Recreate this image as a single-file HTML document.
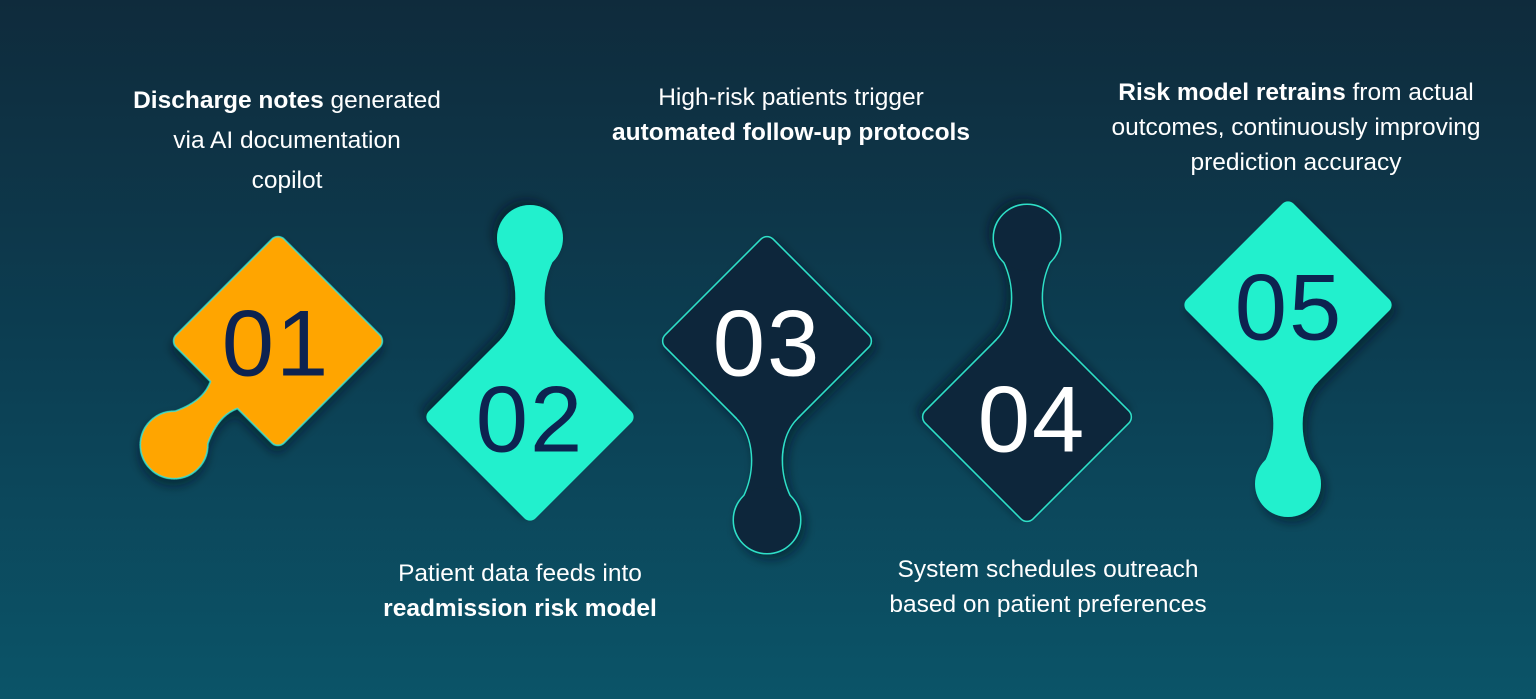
<!DOCTYPE html>
<html><head><meta charset="utf-8"><style>
html,body{margin:0;padding:0}
body{width:1536px;height:699px;overflow:hidden;background:linear-gradient(180deg,#0f2b3c 0%,#0c3e52 50%,#0b5468 100%);font-family:"Liberation Sans",sans-serif;position:relative}
.t{position:absolute;color:#fff;font-size:24.5px;text-align:center;line-height:36px;white-space:nowrap;transform:translateX(-50%)}
.t b{font-weight:bold}
svg{position:absolute;left:0;top:0}
.num{font-family:"Liberation Sans",sans-serif;font-size:94px;text-anchor:middle;dominant-baseline:central;letter-spacing:2px}
</style></head><body>
<svg width="1536" height="699" viewBox="0 0 1536 699">
<defs>
<filter id="sh" x="-30%" y="-30%" width="160%" height="160%"><feDropShadow dx="4" dy="5" stdDeviation="5" flood-color="#041822" flood-opacity="0.55"/></filter>
<g id="vshape">
<rect x="-75.6" y="-75.6" width="151.2" height="151.2" rx="8" transform="rotate(45)"/>
<path d="M -30,77 L 30,77 C 12,95 10,129 23,156 L -23,156 C -10,129 -12,95 -30,77 Z"/>
<circle cx="0" cy="179" r="33"/>
</g>
<g id="eshape">
<rect x="-75.6" y="-75.6" width="151.2" height="151.2" rx="8"/>
<path d="M -30,60 L 30,60 C 12,78 10,97 23,124 L -23,124 C -10,97 -12,78 -30,60 Z"/>
<circle cx="0" cy="147" r="33"/>
</g>
</defs>
<g transform="translate(278,341) rotate(45)" filter="url(#sh)">
<use href="#eshape" fill="#ffa500" stroke="#37d8c0" stroke-width="3"/>
<use href="#eshape" fill="#ffa500"/>
</g>
<g transform="translate(530,417) rotate(180)" filter="url(#sh)">
<use href="#vshape" fill="#22f0cd"/>
</g>
<g transform="translate(767,341)" filter="url(#sh)">
<use href="#vshape" fill="#10283a" stroke="#2fe0c8" stroke-width="3"/>
<use href="#vshape" fill="#10283a"/>
</g>
<g transform="translate(1027,417) rotate(180)" filter="url(#sh)">
<use href="#vshape" fill="#10283a" stroke="#2fe0c8" stroke-width="3"/>
<use href="#vshape" fill="#10283a"/>
</g>
<g transform="translate(1288,305)" filter="url(#sh)">
<use href="#vshape" fill="#22f0cd"/>
</g>
<text class="num" x="276" y="343" fill="#0d2350">01</text>
<text class="num" x="530" y="419" fill="#0d2350">02</text>
<text class="num" x="767" y="343" fill="#ffffff">03</text>
<text class="num" x="1032" y="419" fill="#ffffff">04</text>
<text class="num" x="1289" y="307" fill="#0d2350">05</text>
</svg>
<div class="t" style="left:287px;top:81px;line-height:40px"><b>Discharge notes</b> generated<br>via AI documentation<br>copilot</div>
<div class="t" style="left:791px;top:80px;line-height:35px">High-risk patients trigger<br><b>automated follow-up protocols</b></div>
<div class="t" style="left:1296px;top:75px;line-height:35px"><b>Risk model retrains</b> from actual<br>outcomes, continuously improving<br>prediction accuracy</div>
<div class="t" style="left:520px;top:556px;line-height:35px">Patient data feeds into<br><b>readmission risk model</b></div>
<div class="t" style="left:1048px;top:552px;line-height:35px">System schedules outreach<br>based on patient preferences</div>
</body></html>
